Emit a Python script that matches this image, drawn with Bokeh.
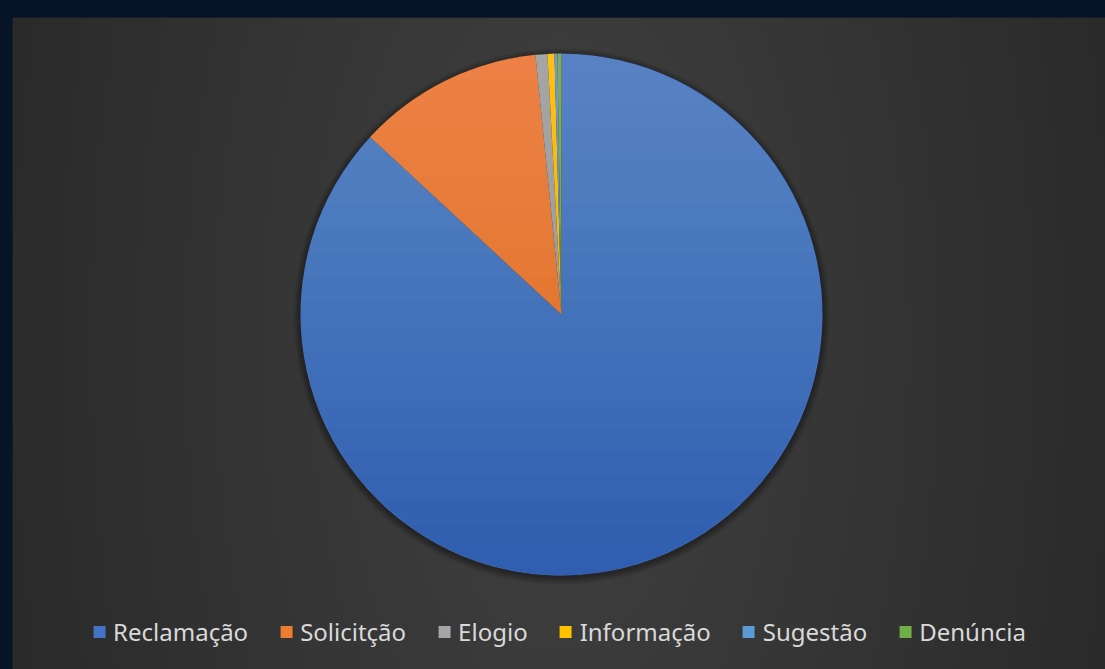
import numpy as np
from bokeh.plotting import figure
from bokeh.models import Range1d, Legend, LegendItem, ColumnDataSource
from bokeh.embed import file_html
from bokeh.resources import INLINE

# ---- data ----
categories = ["Reclamação", "Solicitção", "Elogio", "Informação", "Sugestão", "Denúncia"]
values = [86.9, 11.5, 0.74, 0.43, 0.18, 0.25]
colors = ["#4472C4", "#ED7D31", "#A5A5A5", "#FFC000", "#5B9BD5", "#70AD47"]

# ---- layout ----
W, H = 1105, 669
BL, BT = 12, 17
FW, FH = W - BL, H - BT
p = figure(width=W, height=H, output_backend="svg", toolbar_location=None,
           x_range=Range1d(0, FW), y_range=Range1d(0, FH),
           x_axis_location=None, y_axis_location=None,
           min_border_left=BL, min_border_top=BT, min_border_right=0, min_border_bottom=0)
p.grid.visible = False
p.outline_line_color = None
p.background_fill_color = "#272727"
p.border_fill_color = "#071427"

cx, cy, R = 549, FH - 297, 261

# background radial glow (decorative)
N = 25
ks = np.arange(1, N + 1)
p.ellipse(x=[cx] * N, y=[FH / 2] * N, width=list(1250 * (N + 1 - ks) / N), height=list(2600 * (N + 1 - ks) / N),
          fill_color="#ffffff", fill_alpha=0.0072, line_color=None)

# soft pie shadow
for k in range(1, 8):
    p.circle(x=[cx], y=[cy - 2], radius=R + k, fill_color="#000000", fill_alpha=0.05, line_color=None)

# ---- wedges ----
vals = np.array(values, dtype=float)
frac = vals / vals.sum()
cum = np.concatenate([[0], np.cumsum(frac)])
start = np.pi / 2 - 2 * np.pi * cum[:-1]
end = np.pi / 2 - 2 * np.pi * cum[1:]
src = ColumnDataSource(dict(cat=categories, start=start, end=end, color=colors))
r = p.wedge(x=cx, y=cy, radius=R, start_angle="start", end_angle="end", direction="clock",
            fill_color="color", line_color=None, source=src)

# vertical shading over the pie (decorative)
M = 20
for yk in np.linspace(-R, R, M + 2)[1:-1]:
    a = np.arcsin(yk / R)
    t_up = np.linspace(a, np.pi - a, 90)
    t_dn = np.linspace(np.pi - a, 2 * np.pi + a, 90)
    p.patch(x=list(cx + R * np.cos(t_up)), y=list(cy + R * np.sin(t_up)),
            fill_color="#ffffff", fill_alpha=0.006, line_color=None)
    p.patch(x=list(cx + R * np.cos(t_dn)), y=list(cy + R * np.sin(t_dn)),
            fill_color="#000000", fill_alpha=0.0055, line_color=None)

# ---- legend ----
items = [LegendItem(label=c, renderers=[r], index=i) for i, c in enumerate(categories)]
legend = Legend(items=items, orientation="horizontal", location="bottom_center",
                background_fill_alpha=0, border_line_color=None,
                label_text_color="#d9d9d9", label_text_font="Noto Sans", label_text_font_size="24px",
                glyph_width=15, glyph_height=15, label_standoff=7, spacing=30, padding=0, margin=21)
p.add_layout(legend)

html = file_html(p, INLINE)
html = html.replace("</head>", "<style>html,body{background:#071427;}</style></head>", 1)
open("out.html", "w").write(html)
